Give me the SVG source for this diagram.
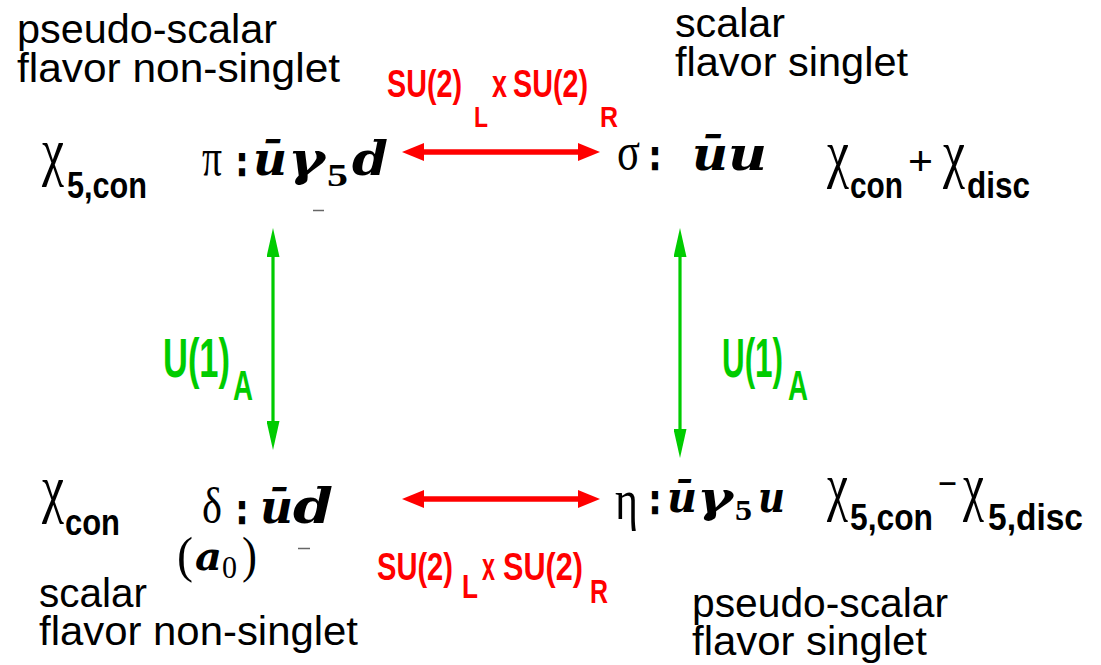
<svg xmlns="http://www.w3.org/2000/svg" width="1101" height="665" viewBox="0 0 1101 665">
<style>
.lbl{font-family:"Liberation Sans",Arial,sans-serif;font-size:40px;fill:#000}
.gr{font-family:"Liberation Serif","Times New Roman",serif;fill:#000}
.mb{font-family:"DejaVu Serif","Liberation Serif",serif;font-weight:bold;font-style:italic;fill:#000}
.bs{font-family:"Liberation Sans Narrow","Liberation Sans",Arial,sans-serif;font-weight:bold;fill:#000}
.col{font-family:"Liberation Sans",Arial,sans-serif;font-weight:bold;font-size:40px;fill:#000;stroke:#000;stroke-width:2.5}
.red{font-family:"Liberation Sans Narrow","Liberation Sans",Arial,sans-serif;font-weight:bold;fill:#ff0000}
.grn{font-family:"Liberation Sans Narrow","Liberation Sans",Arial,sans-serif;font-weight:bold;fill:#00cc00}
.rl{stroke:#ff0000;stroke-width:5.5;fill:none}
.gl{stroke:#00cc00;stroke-width:3.2;fill:none}
.tick{stroke:#666;stroke-width:1.5}
</style>
<defs>
<marker id="rh" viewBox="0 0 22 18" refX="2" refY="9" markerWidth="22" markerHeight="18" markerUnits="userSpaceOnUse" orient="auto-start-reverse"><path d="M0,0 L22,9 L0,18 Z" fill="#ff0000"/></marker>
<marker id="gh" viewBox="0 0 29 13" refX="2" refY="6.5" markerWidth="29" markerHeight="13" markerUnits="userSpaceOnUse" orient="auto-start-reverse"><path d="M0,0 L29,6.5 L0,13 Z" fill="#00cc00"/></marker>
</defs>
<rect width="1101" height="665" fill="#fff"/>

<g id="node-pi">
<text class="lbl" x="17" y="43" textLength="260" lengthAdjust="spacingAndGlyphs">pseudo-scalar</text>
<text class="lbl" x="17" y="82" textLength="323" lengthAdjust="spacingAndGlyphs">flavor non-singlet</text>
<text class="gr" x="42" y="173" font-size="66" textLength="22" lengthAdjust="spacingAndGlyphs">χ</text>
<text class="bs" x="67" y="198" font-size="37" textLength="80" lengthAdjust="spacingAndGlyphs">5,con</text>
<text class="gr" x="202" y="175" font-size="52" textLength="20" lengthAdjust="spacingAndGlyphs">π</text>
<text class="col" x="237" y="175" textLength="10" lengthAdjust="spacingAndGlyphs">:</text>
<text class="mb" x="253" y="175" font-size="46" textLength="34" lengthAdjust="spacingAndGlyphs">ū</text>
<text class="mb" x="288" y="175" font-size="46" textLength="37" lengthAdjust="spacingAndGlyphs">γ</text>
<text class="gr" x="327" y="186" font-size="32" font-weight="bold" textLength="21" lengthAdjust="spacingAndGlyphs">5</text>
<text class="mb" x="352" y="175" font-size="47" textLength="36" lengthAdjust="spacingAndGlyphs">d</text>
<line class="tick" x1="313" y1="210.5" x2="324" y2="210.5"/>
</g>

<g id="node-sigma">
<text class="lbl" x="675" y="37" textLength="110" lengthAdjust="spacingAndGlyphs">scalar</text>
<text class="lbl" x="675" y="76" textLength="233" lengthAdjust="spacingAndGlyphs">flavor singlet</text>
<text class="gr" x="617" y="169" font-size="52" textLength="23" lengthAdjust="spacingAndGlyphs">σ</text>
<text class="col" x="650" y="169" textLength="10" lengthAdjust="spacingAndGlyphs">:</text>
<text class="mb" x="692" y="170" font-size="46" textLength="36" lengthAdjust="spacingAndGlyphs">ū</text>
<text class="mb" x="728" y="170" font-size="46" textLength="39" lengthAdjust="spacingAndGlyphs">u</text>
<text class="gr" x="827" y="175" font-size="66" textLength="22" lengthAdjust="spacingAndGlyphs">χ</text>
<text class="bs" x="850" y="198" font-size="37" textLength="53" lengthAdjust="spacingAndGlyphs">con</text>
<text class="lbl" x="908" y="175" font-size="42" textLength="25" lengthAdjust="spacingAndGlyphs">+</text>
<text class="gr" x="943" y="175" font-size="66" textLength="22" lengthAdjust="spacingAndGlyphs">χ</text>
<text class="bs" x="967" y="198" font-size="37" textLength="63" lengthAdjust="spacingAndGlyphs">disc</text>
</g>

<g id="node-delta">
<text class="gr" x="42" y="510" font-size="66" textLength="22" lengthAdjust="spacingAndGlyphs">χ</text>
<text class="bs" x="65" y="535" font-size="37" textLength="55" lengthAdjust="spacingAndGlyphs">con</text>
<text class="gr" x="202" y="523" font-size="50" textLength="20" lengthAdjust="spacingAndGlyphs">δ</text>
<text class="col" x="237" y="523" textLength="10" lengthAdjust="spacingAndGlyphs">:</text>
<text class="mb" x="260" y="523" font-size="46" textLength="33" lengthAdjust="spacingAndGlyphs">ū</text>
<text class="mb" x="293" y="523" font-size="49" textLength="40" lengthAdjust="spacingAndGlyphs">d</text>
<text class="gr" x="177" y="572" font-size="50" textLength="16" lengthAdjust="spacingAndGlyphs">(</text>
<text class="mb" x="195" y="570" font-size="40" font-weight="normal" textLength="27" lengthAdjust="spacingAndGlyphs">a</text>
<text class="gr" x="222" y="578" font-size="32" textLength="15" lengthAdjust="spacingAndGlyphs">0</text>
<text class="gr" x="242" y="572" font-size="50" textLength="15" lengthAdjust="spacingAndGlyphs">)</text>
<line class="tick" x1="298" y1="548.5" x2="310" y2="548.5"/>
<text class="lbl" x="39" y="607" textLength="108" lengthAdjust="spacingAndGlyphs">scalar</text>
<text class="lbl" x="39" y="645" textLength="319" lengthAdjust="spacingAndGlyphs">flavor non-singlet</text>
</g>

<g id="node-eta">
<text class="gr" x="615" y="519" font-size="56" textLength="23" lengthAdjust="spacingAndGlyphs">η</text>
<text class="col" x="650" y="513" textLength="10" lengthAdjust="spacingAndGlyphs">:</text>
<text class="mb" x="667" y="512" font-size="43" textLength="30" lengthAdjust="spacingAndGlyphs">ū</text>
<text class="mb" x="697" y="512" font-size="43" textLength="36" lengthAdjust="spacingAndGlyphs">γ</text>
<text class="gr" x="735" y="520" font-size="30" font-weight="bold" textLength="17" lengthAdjust="spacingAndGlyphs">5</text>
<text class="mb" x="758" y="512" font-size="43" textLength="27" lengthAdjust="spacingAndGlyphs">u</text>
<text class="gr" x="827" y="508" font-size="66" textLength="21" lengthAdjust="spacingAndGlyphs">χ</text>
<text class="bs" x="850" y="530" font-size="37" textLength="83" lengthAdjust="spacingAndGlyphs">5,con</text>
<text class="lbl" x="938" y="497" font-size="42" textLength="19" lengthAdjust="spacingAndGlyphs">−</text>
<text class="gr" x="963" y="508" font-size="66" textLength="21" lengthAdjust="spacingAndGlyphs">χ</text>
<text class="bs" x="988" y="530" font-size="37" textLength="95" lengthAdjust="spacingAndGlyphs">5,disc</text>
<text class="lbl" x="692" y="617" textLength="256" lengthAdjust="spacingAndGlyphs">pseudo-scalar</text>
<text class="lbl" x="692" y="655" textLength="235" lengthAdjust="spacingAndGlyphs">flavor singlet</text>
</g>

<g id="connectors">
<line class="rl" x1="422" y1="152" x2="580" y2="152" marker-start="url(#rh)" marker-end="url(#rh)"/>
<line class="rl" x1="422" y1="499" x2="580" y2="499" marker-start="url(#rh)" marker-end="url(#rh)"/>
<line class="gl" x1="273" y1="255" x2="273" y2="423" marker-start="url(#gh)" marker-end="url(#gh)"/>
<line class="gl" x1="680" y1="255" x2="680" y2="431" marker-start="url(#gh)" marker-end="url(#gh)"/>
</g>

<g id="connector-labels">
<text class="red" x="387" y="97" font-size="38" textLength="75" lengthAdjust="spacingAndGlyphs">SU(2)</text>
<text class="red" x="474" y="127" font-size="30" textLength="14" lengthAdjust="spacingAndGlyphs">L</text>
<text class="red" x="492" y="97" font-size="38" textLength="15" lengthAdjust="spacingAndGlyphs">x</text>
<text class="red" x="513" y="97" font-size="38" textLength="75" lengthAdjust="spacingAndGlyphs">SU(2)</text>
<text class="red" x="600" y="127" font-size="30" textLength="18" lengthAdjust="spacingAndGlyphs">R</text>
<text class="red" x="377" y="580" font-size="39" textLength="76" lengthAdjust="spacingAndGlyphs">SU(2)</text>
<text class="red" x="462" y="598" font-size="33" textLength="16" lengthAdjust="spacingAndGlyphs">L</text>
<text class="red" x="482" y="580" font-size="39" textLength="13" lengthAdjust="spacingAndGlyphs">x</text>
<text class="red" x="503" y="580" font-size="39" textLength="80" lengthAdjust="spacingAndGlyphs">SU(2)</text>
<text class="red" x="590" y="603" font-size="33" textLength="18" lengthAdjust="spacingAndGlyphs">R</text>
<text class="grn" x="163" y="377" font-size="56" textLength="67" lengthAdjust="spacingAndGlyphs">U(1)</text>
<text class="grn" x="233" y="400" font-size="42" textLength="20" lengthAdjust="spacingAndGlyphs">A</text>
<text class="grn" x="722" y="377" font-size="56" textLength="61" lengthAdjust="spacingAndGlyphs">U(1)</text>
<text class="grn" x="788" y="400" font-size="42" textLength="20" lengthAdjust="spacingAndGlyphs">A</text>
</g>
</svg>
